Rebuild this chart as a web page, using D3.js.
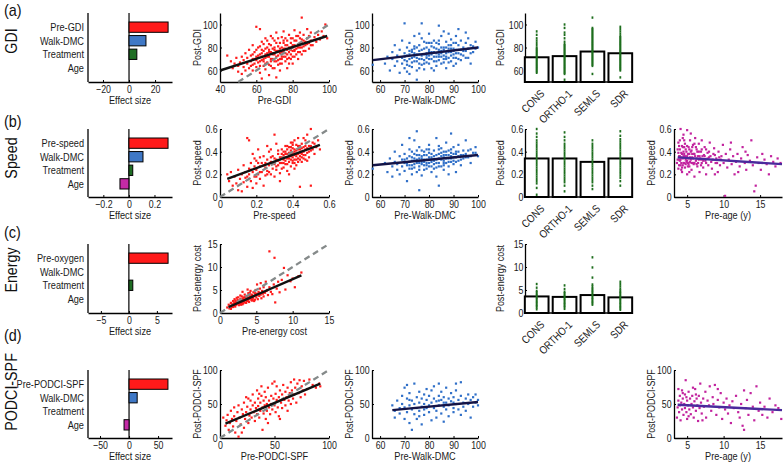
<!DOCTYPE html>
<html><head><meta charset="utf-8">
<script src="https://cdn.jsdelivr.net/npm/d3@7"></script>
<style>body{margin:0;background:#fff}svg{display:block}</style>
</head><body><svg id="c" width="784" height="465"></svg>
<script>
// ---------------- DATA ----------------
const rowTitles = ["GDI","Speed","Energy","PODCI-SPF"];
const rowTags = ["(a)","(b)","(c)","(d)"];
const effLabelsA = ["Pre-GDI","Walk-DMC","Treatment","Age"];
const effLabelsB = ["Pre-speed","Walk-DMC","Treatment","Age"];
const effLabelsC = ["Pre-oxygen","Walk-DMC","Treatment","Age"];
const effLabelsD = ["Pre-PODCI-SPF","Walk-DMC","Treatment","Age"];
const effA = [30, 13, 6, null];
const effB = [0.306, 0.11, 0.03, -0.07];
const effC = [7.0, null, 0.7, null];
const effD = [67, 14, null, -8.6];
const effTicksA = [-20,0,20], effTicksB = [-0.2,0,0.2], effTicksC = [-5,0,5], effTicksD = [-50,0,50];

const groups = ["CONS","ORTHO-1","SEMLS","SDR"];
const barsGDI = [71.5, 72.5, 76.5, 75];
const barsSpeed = [0.34, 0.34, 0.31, 0.34];
const barsEnergy = [3.6, 3.5, 3.9, 3.4];
const stripGDI = [
 [58,59,60,61,62,63,64,65,66,67,68,69,70,71,72,73,74,75,76,77,78,79,80,82,84,86,88,91,94],
 [52,57,58,59,60,61,62,63,64,65,66,67,68,69,70,71,72,73,74,75,76,77,78,79,80,81,82,83,85,88,91,93,97,100],
 [57,64,65,66,67,68,69,70,71,72,73,74,75,76,77,78,79,80,81,82,83,84,85,86,87,88,89,90,91,92,93,94,95,96,97,106],
 [54,60,61,62,63,64,65,66,67,68,69,70,71,72,73,74,75,76,77,78,79,80,81,82,83,84,85,86,87,88,89,90,92,94,96,98]
];
const stripSpeed = [
 [0.02,0.08,0.12,0.14,0.16,0.18,0.2,0.22,0.24,0.26,0.28,0.3,0.32,0.34,0.36,0.38,0.4,0.42,0.44,0.46,0.48,0.5,0.53,0.56,0.6],
 [0.05,0.1,0.13,0.15,0.17,0.19,0.21,0.23,0.25,0.27,0.29,0.31,0.33,0.35,0.37,0.39,0.41,0.43,0.45,0.47,0.5,0.53,0.57],
 [0.07,0.1,0.13,0.15,0.17,0.19,0.21,0.23,0.25,0.27,0.29,0.31,0.33,0.35,0.37,0.39,0.41,0.43,0.45,0.47,0.5],
 [0.1,0.14,0.17,0.19,0.21,0.23,0.25,0.27,0.29,0.31,0.33,0.35,0.37,0.39,0.41,0.43,0.45,0.47,0.49,0.51,0.54,0.58]
];
const stripEnergy = [
 [0.8,1.2,1.5,1.8,2.1,2.4,2.7,3,3.3,3.6,3.9,4.2,4.5,4.8,5.5,6.3],
 [0.9,1.3,1.6,1.9,2.2,2.5,2.8,3.1,3.4,3.7,4,4.3,4.6,5.2,6],
 [1.8,2.1,2.4,2.7,3,3.3,3.6,3.9,4.2,4.5,4.8,5.1,5.4,5.8,6.2,7.7,9.9,12.1],
 [0.7,1,1.3,1.6,1.9,2.2,2.5,2.8,3.1,3.4,3.7,4,4.3,4.6,4.9,5.3,5.8,6.3,6.8]
];

const ptsA1 = [[44,73],[46,68],[47,62],[48,66],[49,71],[50,64],[50,59],[51,67],[52,57],[52,72],[53,63],[53,69],[54,60],[54,75],[55,66],[55,71],
[56,62],[56,78],[57,68],[57,73],[58,60],[58,65],[58,82],[59,70],[59,76],[60,98],[60,63],[60,72],[61,67],[61,80],[62,96],[62,58],[62,74],[63,53],[63,69],[63,85],[64,64],[64,77],[65,71],[65,61],[65,88],[65,74],
[66,67],[66,80],[67,56],[67,72],[67,83],[68,64],[68,76],[68,90],[69,70],[69,79],[70,62],[70,74],[70,86],[71,54],[71,68],[71,77],[71,93],[72,65],[72,81],[72,73],[73,60],[73,84],[73,70],[74,76],[74,89],[74,66],[75,79],[75,72],[75,94],
[76,68],[76,82],[76,75],[77,86],[77,62],[77,78],[78,71],[78,91],[78,80],[79,74],[79,84],[80,66],[80,88],[80,77],[81,82],[81,72],[81,95],[82,79],[82,86],[83,70],[83,90],[83,76],[84,84],[84,93],[84,80],[85,106],[85,74],[85,87],
[86,81],[86,91],[87,77],[87,85],[88,96],[88,83],[89,79],[89,90],[90,86],[90,93],[91,82],[92,89],[93,85],[94,91],[95,87],[96,94],[97,90],[98,100],[99,88],
[58,74],[61,73],[64,70],[66,75],[69,74],[72,77],[74,72],[76,79],[79,78],[81,77],[63,75],[67,78],[70,80],[73,79],[77,74],[79,70],[68,68],[62,68],[60,69],[75,84],
[59,66],[60,78],[61,71],[62,64],[62,81],[63,72],[63,78],[64,68],[64,83],[65,66],[65,79],[66,72],[66,86],[67,65],[67,76],[68,70],[68,82],[69,62],[69,75],[69,88],[70,68],[70,78],[71,72],[71,84],[72,69],[72,88],[73,75],[73,66],[74,80],[74,70],[75,76],[75,86],[76,72],[76,88],[77,70],[77,82],[78,76],[78,66],[79,80],[79,88],[80,72],[80,82],[81,86],[81,78],[82,74],[82,90],[83,82],[83,80],[84,76],[84,88],[85,80],[85,84],[86,77],[86,86],[87,82],[88,88],[89,84],[90,82],[58,70],[57,64]];
const ptsA2 = [[57,65],[62,66],[63,72],[64,60],[65,70],[65,76],[66,64],[66,82],[67,68],[67,73],[68,58],[68,78],[69,66],[69,71],[69,86],[70,101],[70,62],[70,75],[70,69],[71,80],[71,65],[71,73],[72,57],[72,70],[72,84],[73,67],[73,76],[73,63],[74,72],[74,90],[74,79],[75,52],[75,68],[75,74],[75,60],[76,82],[76,70],[76,77],[77,65],[77,73],[77,88],[77,101],[78,69],[78,79],[78,61],[79,75],[79,84],[79,71],[80,66],[80,78],[80,73],[80,92],[81,62],[81,70],[81,81],[82,76],[82,68],[82,86],[83,72],[83,79],[83,64],[84,99],[84,74],[84,83],[84,69],[85,77],[85,90],[85,66],[86,73],[86,80],[86,94],[87,70],[87,85],[87,62],[88,76],[88,82],[88,92],[89,68],[89,79],[89,87],[90,74],[90,84],[90,64],[91,78],[91,90],[91,71],[92,82],[92,75],[92,96],[93,69],[93,86],[94,80],[94,73],[95,84],[95,77],[96,71],[96,88],[97,82],[98,76],[99,85],[99,79],[100,80],[97,66],[95,93],
[74,81],[76,62],[78,85],[79,67],[81,76],[83,84],[85,72],[86,67],[88,71],[90,79],[72,77],[71,59],[76,92],[80,84],[82,60],[84,78],[87,75],[89,73],[91,66],[93,78],
[70,72],[71,68],[72,74],[72,64],[73,78],[73,71],[74,68],[74,75],[75,80],[75,71],[76,66],[76,74],[77,78],[77,70],[78,74],[78,66],[79,80],[79,73],[80,70],[80,76],[81,74],[81,84],[82,72],[82,80],[83,75],[83,68],[84,72],[84,86],[85,80],[85,75],[86,70],[86,78],[87,80],[87,72],[88,79],[88,67],[89,76],[89,82],[90,71],[90,77],[91,75],[91,84],[92,78],[92,70],[93,74],[94,77],[95,71],[96,79],[97,75],[98,81]];
const ptsB1 = [[0.04,0.2],[0.05,0.14],[0.06,0.22],[0.07,0.1],[0.08,0.18],[0.09,0.12],[0.1,0.24],[0.1,0.06],[0.11,0.16],[0.12,0.05],[0.12,0.2],[0.13,0.28],[0.13,0.13],[0.14,0.22],[0.14,0.17],[0.15,0.52],[0.15,0.09],[0.16,0.5],[0.16,0.25],[0.16,0.2],[0.17,0.14],[0.17,0.3],[0.18,0.22],[0.18,0.38],[0.19,0.18],[0.19,0.27],[0.2,0.12],[0.2,0.24],[0.2,0.32],[0.21,0.2],[0.21,0.42],[0.22,0.27],[0.22,0.16],[0.23,0.3],[0.23,0.22],[0.24,0.36],[0.24,0.1],[0.25,0.26],[0.25,0.19],[0.26,0.33],[0.26,0.23],[0.27,0.4],[0.27,0.28],[0.28,0.2],[0.28,0.31],[0.29,0.25],[0.29,0.36],[0.3,0.55],[0.3,0.29],[0.3,0.18],[0.31,0.33],[0.31,0.24],[0.32,0.38],[0.32,0.28],[0.33,0.21],[0.33,0.35],[0.34,0.42],[0.34,0.3],[0.35,0.26],[0.35,0.37],[0.35,0.33],[0.36,0.45],[0.36,0.29],[0.36,0.4],[0.37,0.34],[0.37,0.23],[0.37,0.38],[0.38,0.31],[0.38,0.44],[0.38,0.36],[0.39,0.41],[0.39,0.27],[0.39,0.48],[0.4,0.35],[0.4,0.39],[0.4,0.3],[0.4,0.43],[0.41,0.37],[0.41,0.5],[0.41,0.33],[0.42,0.41],[0.42,0.28],[0.42,0.46],[0.43,0.38],[0.43,0.34],[0.43,0.52],[0.44,0.09],[0.44,0.42],[0.44,0.36],[0.45,0.47],[0.45,0.31],[0.45,0.4],[0.46,0.44],[0.46,0.37],[0.47,0.5],[0.47,0.33],[0.47,0.42],[0.48,0.39],[0.48,0.55],[0.49,0.45],[0.49,0.35],[0.5,0.1],[0.5,0.6],[0.5,0.41],[0.51,0.48],[0.52,0.38],[0.53,0.44],[0.54,0.5],[0.55,0.42],[0.26,0.45],[0.31,0.47],[0.22,0.35],[0.18,0.08],[0.33,0.14],[0.28,0.42],[0.41,0.25],[0.46,0.52],[0.38,0.2],[0.43,0.45],[0.39,0.33],
[0.36,0.35],[0.4,0.46],[0.42,0.36],[0.44,0.39],[0.37,0.42],[0.34,0.38],[0.45,0.35],[0.39,0.38],[0.41,0.42],[0.32,0.32],
[0.3,0.34],[0.31,0.27],[0.32,0.41],[0.33,0.3],[0.34,0.35],[0.34,0.25],[0.35,0.4],[0.35,0.3],[0.36,0.32],[0.36,0.38],[0.37,0.29],[0.37,0.45],[0.38,0.34],[0.38,0.39],[0.39,0.36],[0.39,0.44],[0.4,0.32],[0.4,0.48],[0.41,0.4],[0.41,0.3],[0.42,0.38],[0.42,0.33],[0.43,0.42],[0.43,0.31],[0.44,0.45],[0.44,0.33],[0.45,0.38],[0.45,0.43],[0.46,0.4],[0.46,0.34],[0.47,0.45],[0.47,0.37],[0.48,0.43],[0.48,0.32],[0.49,0.4],[0.5,0.45],[0.51,0.42],[0.52,0.47],[0.25,0.3],[0.27,0.22],[0.28,0.35],[0.29,0.3],[0.24,0.28],[0.22,0.22],[0.2,0.18],[0.26,0.2],[0.21,0.3],[0.19,0.34],[0.17,0.24],[0.15,0.18]];
const ptsB2 = [[57,0.25],[62,0.3],[63,0.22],[64,0.34],[65,0.27],[65,0.18],[66,0.31],[66,0.4],[67,0.24],[67,0.29],[68,0.36],[68,0.2],[69,0.27],[69,0.33],[69,0.46],[70,0.3],[70,0.23],[70,0.38],[71,0.14],[71,0.28],[71,0.34],[72,0.25],[72,0.42],[72,0.31],[73,0.2],[73,0.35],[73,0.28],[74,0.32],[74,0.5],[74,0.26],[75,0.37],[75,0.22],[75,0.3],[75,0.58],[76,0.34],[76,0.27],[76,0.44],[77,0.31],[77,0.19],[77,0.36],[78,0.28],[78,0.4],[78,0.33],[79,0.25],[79,0.37],[79,0.3],[80,0.46],[80,0.33],[80,0.27],[80,0.39],[81,0.22],[81,0.35],[81,0.31],[82,0.41],[82,0.29],[82,0.36],[83,0.33],[83,0.18],[83,0.52],[84,0.38],[84,0.3],[84,0.34],[85,0.27],[85,0.43],[85,0.36],[86,0.32],[86,0.4],[86,0.24],[87,0.37],[87,0.3],[87,0.48],[88,0.34],[88,0.41],[88,0.27],[89,0.36],[89,0.31],[89,0.56],[90,0.38],[90,0.29],[90,0.44],[91,0.35],[91,0.4],[92,0.32],[92,0.46],[93,0.37],[93,0.28],[94,0.41],[94,0.34],[95,0.38],[95,0.5],[96,0.35],[97,0.42],[97,0.3],[98,0.39],[99,0.44],[100,0.36],[76,0.06],[84,0.1],[72,0.52],[91,0.22],[79,0.42],[83,0.26],[86,0.35],[74,0.38],[88,0.2],
[78,0.31],[80,0.35],[82,0.33],[76,0.3],[84,0.42],[86,0.28],[73,0.32],[89,0.39],[81,0.27],[77,0.41],
[70,0.33],[71,0.3],[72,0.36],[72,0.28],[73,0.4],[73,0.25],[74,0.34],[74,0.29],[75,0.33],[75,0.41],[76,0.37],[76,0.24],[77,0.34],[77,0.29],[78,0.37],[78,0.24],[79,0.33],[79,0.28],[80,0.3],[80,0.42],[81,0.38],[81,0.33],[82,0.32],[82,0.25],[83,0.37],[83,0.3],[84,0.27],[84,0.45],[85,0.33],[85,0.39],[86,0.37],[86,0.3],[87,0.34],[87,0.4],[88,0.37],[88,0.31],[89,0.42],[89,0.34],[90,0.35],[90,0.32],[91,0.38],[91,0.31],[92,0.36],[92,0.4],[93,0.33],[94,0.37],[95,0.35],[96,0.41],[97,0.36],[99,0.39]];
const ptsB4 = [[3.6,0.3],[3.7,0.42],[3.8,0.25],[3.9,0.36],[4,0.5],[4,0.32],[4.1,0.6],[4.1,0.28],[4.2,0.39],[4.3,0.22],[4.3,0.45],[4.4,0.34],[4.5,0.3],[4.5,0.55],[4.6,0.38],[4.7,0.26],[4.7,0.47],[4.8,0.33],[4.9,0.4],[5,0.2],[5,0.36],[5,0.59],[5.1,0.3],[5.2,0.44],[5.3,0.27],[5.3,0.38],[5.4,0.5],[5.5,0.33],[5.6,0.24],[5.6,0.41],[5.7,0.35],[5.8,0.46],[5.9,0.29],[6,0.38],[6,0.18],[6.1,0.52],[6.2,0.32],[6.3,0.42],[6.4,0.27],[6.5,0.36],[6.6,0.47],[6.7,0.22],[6.8,0.34],[6.9,0.4],[7,0.3],[7,0.5],[7.2,0.26],[7.3,0.37],[7.4,0.44],[7.5,0.32],[7.6,0.2],[7.8,0.39],[7.9,0.28],[8,0.35],[8.1,0.48],[8.3,0.31],[8.4,0.25],[8.6,0.38],[8.7,0.43],[8.9,0.3],[9,0.34],[9.2,0.22],[9.3,0.4],[9.5,0.28],[9.7,0.36],[9.9,0.46],[10,0.3],[10.2,0.01],[10.3,0.38],[10.5,0.26],[10.7,0.33],[10.9,0.42],[11.1,0.29],[11.3,0.36],[11.5,0.2],[11.7,0.31],[11.9,0.38],[12.2,0.27],[12.4,0.34],[12.6,0.44],[12.9,0.3],[13.1,0.24],[13.3,0.37],[13.6,0.32],[13.8,0.5],[14,0.28],[14.2,0.05],[14.4,0.1],[14.6,0.35],[14.8,0.3],[15.1,0.24],[15.3,0.38],[15.6,0.33],[15.9,0.29],[16.2,0.2],[16.5,0.36],[16.8,0.31],[17.1,0.27],[17.4,0.34],[17.8,0.3],[4.2,0.24],[4.6,0.44],[5.2,0.34],[5.8,0.3],[6.4,0.4],[6.9,0.28],[7.6,0.42],[3.8,0.48],[4.4,0.52],[5.5,0.56],[8.8,0.2],[9.6,0.33],[11,0.48],[12,0.22],[13,0.4],
[3.9,0.33],[4.5,0.4],[5.1,0.27],[5.7,0.38],[6.3,0.29],[4.8,0.29],[5.4,0.31],[6.6,0.33],[7.1,0.36],[4.2,0.35],
[3.7,0.33],[3.8,0.39],[3.9,0.28],[4,0.42],[4,0.36],[4.1,0.33],[4.2,0.3],[4.3,0.38],[4.4,0.28],[4.4,0.44],[4.5,0.36],[4.6,0.3],[4.7,0.36],[4.8,0.42],[4.9,0.31],[5,0.45],[5,0.32],[5.1,0.38],[5.2,0.29],[5.3,0.42],[5.4,0.35],[5.5,0.4],[5.6,0.3],[5.7,0.44],[5.8,0.34],[5.9,0.38],[6,0.3],[6.1,0.36],[6.2,0.44],[6.3,0.34],[6.5,0.3],[6.6,0.4],[6.7,0.36],[6.9,0.33],[7,0.42],[7.2,0.32],[7.4,0.36],[7.6,0.3],[7.8,0.34],[8,0.4],[8.2,0.36],[8.5,0.33],[8.8,0.37],[9.1,0.3],[9.4,0.35],[3.9,0.45],[4.6,0.5],[5.3,0.22],[6,0.47],[4.3,0.26]];
const ptsC1 = [[1,1.2],[1.2,1.8],[1.3,1],[1.4,1.5],[1.5,2.2],[1.6,1.3],[1.7,1.9],[1.8,2.6],[1.9,1.6],[2,2.1],[2,3],[2.1,1.4],[2.2,2.4],[2.3,1.9],[2.4,2.8],[2.5,2.2],[2.5,3.4],[2.6,1.7],[2.7,2.6],[2.8,3.1],[2.9,2.2],[3,2.8],[3,3.6],[3.1,1.9],[3.2,3.2],[3.3,2.5],[3.4,4],[3.5,2.9],[3.5,3.4],[3.6,2.2],[3.7,3.7],[3.8,2.7],[3.9,4.3],[4,3.1],[4,2.4],[4.1,3.6],[4.2,4.8],[4.3,2.9],[4.4,3.9],[4.5,3.3],[4.6,4.5],[4.7,2.6],[4.8,3.8],[4.9,5],[5,3.4],[5,4.2],[5.1,6.2],[5.2,3],[5.3,4.6],[5.4,3.7],[5.5,5.3],[5.6,4],[5.7,3.2],[5.8,4.8],[6,5.6],[6,3.6],[6.2,4.4],[6.3,6.8],[6.5,5],[6.6,3.9],[6.8,13.4],[6.8,5.6],[7,4.6],[7.2,4.1],[7.4,6.2],[7.5,12],[7.6,2.3],[7.8,5.3],[8,6.8],[8.2,4.5],[8.5,7.2],[8.8,9.8],[9,5.1],[9.3,8.2],[9.7,6.9],[10,7.5],[10.3,5.6],[10.8,8],[11.2,8.8],[2.1,2.7],[2.6,2.4],[3.2,2.1],[3.6,3],[4.4,2.7],[2.8,3.8],[1.8,1.3],[2.3,3.3],[3.8,5.1],[4.8,2.9],[5.6,6.5],[1.5,0.9],[2.9,1.8],[3.4,2.3],[4.1,4.4],[3.1,4.6],
[1.6,1.7],[1.9,2.1],[2.1,2.3],[2.2,1.8],[2.4,2.4],[2.5,2.7],[2.7,2.1],[2.8,2.6],[3,2.4],[3.1,3],[3.2,2.7],[3.3,3.4],[3.4,2.8],[3.6,3.5],[3.7,2.6],[3.8,3.3],[3.9,2.9],[4,3.8],[4.2,3.3],[4.3,4],[4.5,3],[4.6,3.6],[4.8,4.3],[5,3.8],[5.2,4.1],[5.4,4.4],[5.9,4.2],[6.4,4.8],[2,1.6],[1.3,1.4]];
const ptsD1 = [[3,30],[5,18],[6,26],[7,34],[8,12],[9,22],[10,40],[11,28],[12,17],[13,45],[13,32],[14,8],[15,25],[16,38],[17,2],[17,48],[18,30],[19,20],[20,42],[21,35],[22,52],[22,15],[23,28],[24,60],[24,38],[25,46],[26,22],[27,33],[28,55],[28,42],[29,30],[30,64],[30,48],[31,38],[32,25],[32,52],[33,44],[34,70],[34,35],[35,58],[35,47],[36,30],[37,52],[37,40],[38,76],[38,62],[39,45],[40,36],[40,55],[41,68],[41,48],[42,28],[42,60],[43,50],[43,40],[44,74],[45,55],[45,45],[46,35],[47,62],[47,50],[48,80],[48,42],[49,58],[50,83],[50,48],[51,65],[51,38],[52,56],[52,76],[53,45],[54,60],[54,32],[55,70],[56,52],[57,64],[57,44],[58,78],[59,56],[60,48],[60,68],[61,60],[62,40],[62,74],[63,55],[64,66],[65,82],[65,50],[66,70],[67,58],[68,86],[68,64],[69,74],[70,52],[71,80],[72,66],[73,85],[74,60],[75,76],[76,70],[77,84],[78,64],[80,72],[82,86],[85,78],[88,74],[91,80],[92,76],[36,65],[44,22],[26,58],[55,28],[39,12],[20,8]];
const ptsD2 = [[65,48],[66,40],[66,30],[67,55],[68,44],[68,36],[69,62],[69,50],[70,74],[70,28],[70,45],[71,58],[71,38],[71,78],[72,48],[72,22],[72,66],[73,42],[73,55],[73,12],[74,80],[74,35],[74,50],[75,60],[75,44],[75,28],[76,68],[76,52],[76,40],[77,46],[77,58],[77,20],[78,64],[78,34],[78,50],[79,72],[79,44],[79,56],[80,38],[80,62],[80,48],[81,52],[81,26],[81,70],[82,44],[82,58],[82,76],[83,40],[83,54],[83,30],[84,62],[84,48],[84,80],[85,36],[85,56],[85,68],[86,46],[86,24],[86,60],[87,52],[87,42],[87,74],[88,58],[88,32],[88,48],[89,66],[89,54],[90,44],[90,60],[90,38],[91,70],[91,50],[91,80],[92,56],[92,42],[93,62],[93,34],[93,82],[94,52],[94,46],[95,58],[95,40],[96,64],[96,50],[97,56],[97,30],[98,60],[98,46],[99,52],[99,64],[100,56],[100,48],[78,42],[84,55],[76,32],[90,52],[72,56],[86,52]];
const ptsD4 = [[3.6,30],[3.7,45],[3.8,55],[3.9,38],[4,62],[4,48],[4.1,26],[4.2,52],[4.3,70],[4.3,42],[4.4,58],[4.5,34],[4.6,50],[4.7,64],[4.7,44],[4.8,85],[4.9,38],[5,55],[5,28],[5.1,48],[5.2,68],[5.3,42],[5.4,58],[5.5,35],[5.6,50],[5.7,62],[5.8,45],[5.9,30],[6,54],[6.1,72],[6.2,40],[6.3,58],[6.4,48],[6.5,25],[6.6,62],[6.7,44],[6.8,80],[6.9,52],[7,36],[7.2,58],[7.3,46],[7.5,68],[7.6,30],[7.8,55],[8,48],[8.1,76],[8.3,40],[8.5,60],[8.6,50],[8.8,78],[9,34],[9.2,56],[9.4,45],[9.6,66],[9.8,28],[10,52],[10.2,42],[10.4,58],[10.6,36],[10.8,48],[11,22],[11.2,54],[11.4,44],[11.7,62],[12,38],[12.2,30],[12.4,50],[12.6,18],[12.8,12],[13,44],[13.2,56],[13.4,34],[13.7,66],[14,46],[14.2,26],[14.5,76],[14.8,40],[15,52],[15.3,34],[15.6,46],[16,30],[16.3,58],[16.7,38],[17.1,48],[17.5,44],[17.9,28],[4.4,66],[5.2,32],[6.2,64],[7.1,26],[3.8,72],[5.8,74],[9.2,72],[12.8,70],[4.9,60]];

const fitA1=[[40,60],[99,90]], fitA2=[[57,69],[100,80]];
const fitB1=[[0.04,0.16],[0.55,0.46]], fitB2=[[57,0.28],[100,0.37]], fitB4=[[3.7,0.35],[18,0.29]];
const fitC1=[[1.2,1.3],[11.2,8.2]];
const fitD1=[[5,21],[92,80]], fitD2=[[65,41],[100,53]], fitD4=[[3.7,49],[18,41]];

// ---------------- LAYOUT / STYLE ----------------
const svg = d3.select("#c");
const FONT = '"Liberation Sans",Arial,sans-serif';
svg.style("font-family", FONT);
const SX = 0.8; // horizontal condensing of text to match the narrow lettering
const rowTop=[13,129,244,370], rowBot=[82,197,313,438];
const fmt = d => (d<0?"\u2212":"") + String(Math.abs(d));
const effColors = ["#ff1a1a","#3f78c6","#1f6e24","#c42aa6"];
const RED="#ff1a1a", BLUE="#2f6fc8", MAG="#c2239e";

function htext(x,y,txt,size,anchor){
  return svg.append("text").attr("transform",`translate(${x},${y}) scale(${SX},1)`)
    .attr("text-anchor",anchor||"start").attr("font-size",size).attr("fill","#1a1a1a").text(txt);
}
function vtext(x,y,txt,size){
  return svg.append("text").attr("transform",`translate(${x},${y}) rotate(-90) scale(0.78,1)`)
    .attr("text-anchor","middle").attr("font-size",size).attr("fill","#1a1a1a").text(txt);
}
function styleAxis(g){
  g.select(".domain").attr("stroke","#000").attr("stroke-width",1.3);
  g.selectAll(".tick line").attr("stroke","#000");
  g.selectAll(".tick text").attr("fill","#1a1a1a").attr("font-size",11).attr("font-family",FONT)
    .attr("transform",`scale(${SX},1)`);
}
function frame(r, x, y, xt, yt){
  const gx = svg.append("g").attr("transform",`translate(0,${rowBot[r]})`)
    .call(d3.axisBottom(x).tickValues(xt).tickSize(-2).tickSizeOuter(0).tickPadding(3).tickFormat(fmt));
  styleAxis(gx);
  const gy = svg.append("g").attr("transform",`translate(${x.range()[0]},0)`)
    .call(d3.axisLeft(y).tickValues(yt).tickSize(-2).tickSizeOuter(0).tickPadding(3).tickFormat(fmt));
  styleAxis(gy);
}
function xLabel(r, x, txt){
  htext((x.range()[0]+x.range()[1])/2, rowBot[r]+22, txt, 11.5, "middle");
}
function yLabel(r, xpos, txt){
  vtext(xpos,(rowTop[r]+rowBot[r])/2,txt,11.5);
}

// row tags & titles
rowTags.forEach((t,i)=>{
  svg.append("text").attr("transform",`translate(4,${[16,127,238,341][i]}) scale(0.9,1)`).attr("font-size",16).attr("fill","#111").text(t);
});
rowTitles.forEach((t,i)=>{
  svg.append("text").attr("transform",`translate(17,${[41,158,270,392][i]}) rotate(-90) scale(0.84,1)`)
    .attr("text-anchor","middle").attr("font-size",17).attr("fill","#111").text(t);
});

// ---------------- EFFECT SIZE PANELS ----------------
function effectPanel(r, labels, vals, dom, ticks){
  const x = d3.scaleLinear().domain(dom).range([88,172]);
  const yb = d3.scaleBand().domain(d3.range(4)).range([rowTop[r]+9,rowTop[r]+60]).paddingInner(0.24);
  const gx = svg.append("g").attr("transform",`translate(0,${rowBot[r]})`)
    .call(d3.axisBottom(x).tickValues(ticks).tickSize(-2).tickSizeOuter(0).tickPadding(3).tickFormat(fmt));
  styleAxis(gx);
  svg.append("line").attr("x1",88).attr("x2",88).attr("y1",rowTop[r]).attr("y2",rowBot[r]).attr("stroke","#000").attr("stroke-width",1.3);
  svg.append("line").attr("x1",x(0)).attr("x2",x(0)).attr("y1",rowTop[r]).attr("y2",rowBot[r]).attr("stroke","#000").attr("stroke-width",1.2);
  vals.forEach((v,i)=>{
    if(v!==null){
      svg.append("rect").attr("x",Math.min(x(0),x(v))).attr("y",yb(i)).attr("width",Math.abs(x(v)-x(0))).attr("height",yb.bandwidth())
        .attr("fill",effColors[i]).attr("stroke","#000").attr("stroke-width",1);
    }
    htext(84, yb(i)+yb.bandwidth()/2+4, labels[i], 11.5, "end");
  });
  xLabel(r, x, "Effect size");
}
effectPanel(0, effLabelsA, effA, [-31.5,33], effTicksA);
effectPanel(1, effLabelsB, effB, [-0.32,0.337], effTicksB);
effectPanel(2, effLabelsC, effC, [-7.3,7.7], effTicksC);
effectPanel(3, effLabelsD, effD, [-70.7,74], effTicksD);

// ---------------- SCATTER PANELS ----------------
function scatterPanel(o){
  const r=o.r;
  const x = d3.scaleLinear().domain(o.xd).range(o.xr);
  const y = d3.scaleLinear().domain(o.yd).range([rowBot[r],rowTop[r]]);
  frame(r,x,y,o.xt,o.yt);
  svg.append("g").selectAll("rect").data(o.pts).join("rect")
    .attr("x",d=>x(d[0])-1.1).attr("y",d=>y(d[1])-1.1).attr("width",2.2).attr("height",2.2).attr("fill",o.color);
  if(o.ident){
    svg.append("line").attr("x1",x(o.ident[0])).attr("y1",y(o.ident[0])).attr("x2",x(o.ident[1])).attr("y2",y(o.ident[1]))
      .attr("stroke","#858a8a").attr("stroke-width",2.3).attr("stroke-dasharray","6,4");
  }
  svg.append("line").attr("x1",x(o.fit[0][0])).attr("y1",y(o.fit[0][1])).attr("x2",x(o.fit[1][0])).attr("y2",y(o.fit[1][1]))
    .attr("stroke",o.fc).attr("stroke-width",2.4);
  xLabel(r,x,o.xl);
  yLabel(r,o.xr[0]-19,o.yl);
}
const S1=[220,329], S2=[372,478], S4=[674,782];
scatterPanel({r:0,xr:S1,xd:[40,100],yd:[50,110],xt:[40,60,80,100],yt:[60,80,100],pts:ptsA1,color:RED,fit:fitA1,fc:"#111",ident:[50,100],xl:"Pre-GDI",yl:"Post-GDI"});
scatterPanel({r:0,xr:S2,xd:[56.7,100],yd:[50,110],xt:[60,70,80,90,100],yt:[60,80,100],pts:ptsA2,color:BLUE,fit:fitA2,fc:"#141446",xl:"Pre-Walk-DMC",yl:"Post-GDI"});
scatterPanel({r:1,xr:S1,xd:[0,0.6],yd:[0,0.6],xt:[0,0.2,0.4,0.6],yt:[0,0.2,0.4,0.6],pts:ptsB1,color:RED,fit:fitB1,fc:"#111",ident:[0,0.6],xl:"Pre-speed",yl:"Post-speed"});
scatterPanel({r:1,xr:S2,xd:[56.7,100],yd:[0,0.6],xt:[60,70,80,90,100],yt:[0,0.2,0.4,0.6],pts:ptsB2,color:BLUE,fit:fitB2,fc:"#141446",xl:"Pre-Walk-DMC",yl:"Post-speed"});
scatterPanel({r:1,xr:S4,xd:[3.2,18],yd:[0,0.6],xt:[5,10,15],yt:[0,0.2,0.4,0.6],pts:ptsB4,color:MAG,fit:fitB4,fc:"#4a2a9c",xl:"Pre-age (y)",yl:"Post-speed"});
scatterPanel({r:2,xr:S1,xd:[0,15],yd:[0,15],xt:[0,5,10,15],yt:[0,5,10,15],pts:ptsC1,color:RED,fit:fitC1,fc:"#111",ident:[0,15],xl:"Pre-energy cost",yl:"Post-energy cost"});
scatterPanel({r:3,xr:S1,xd:[0,100],yd:[0,100],xt:[0,50,100],yt:[0,50,100],pts:ptsD1,color:RED,fit:fitD1,fc:"#111",ident:[0,100],xl:"Pre-PODCI-SPF",yl:"Post-PODCI-SPF"});
scatterPanel({r:3,xr:S2,xd:[56.7,100],yd:[0,100],xt:[60,70,80,90,100],yt:[0,50,100],pts:ptsD2,color:BLUE,fit:fitD2,fc:"#141446",xl:"Pre-Walk-DMC",yl:"Post-PODCI-SPF"});
scatterPanel({r:3,xr:S4,xd:[3.2,18],yd:[0,100],xt:[5,10,15],yt:[0,50,100],pts:ptsD4,color:MAG,fit:fitD4,fc:"#4a2a9c",xl:"Pre-age (y)",yl:"Post-PODCI-SPF"});

// ---------------- BAR PANELS ----------------
function barPanel(r, yd, yt, vals, strips, yl){
  const x = d3.scaleBand().domain(groups).range([524,633]).paddingInner(0.15).paddingOuter(0.03);
  const y = d3.scaleLinear().domain(yd).range([rowBot[r],rowTop[r]]);
  const gy = svg.append("g").attr("transform",`translate(525,0)`)
    .call(d3.axisLeft(y).tickValues(yt).tickSize(-2).tickSizeOuter(0).tickPadding(2).tickFormat(fmt));
  styleAxis(gy);
  svg.append("line").attr("x1",525).attr("x2",633).attr("y1",rowBot[r]).attr("y2",rowBot[r]).attr("stroke","#000").attr("stroke-width",1.3);
  svg.append("g").selectAll("rect").data(vals).join("rect")
    .attr("x",(d,i)=>x(groups[i])).attr("y",d=>y(d)).attr("width",x.bandwidth()).attr("height",d=>y(yd[0])-y(d))
    .attr("fill","#fff").attr("stroke","#000").attr("stroke-width",2);
  strips.forEach((arr,i)=>{
    const cx = x(groups[i])+x.bandwidth()/2;
    svg.append("g").selectAll("rect").data(arr).join("rect")
      .attr("x",cx-0.9).attr("y",d=>y(d)-1.2).attr("width",1.8).attr("height",2.4).attr("fill","#1d6e1d");
  });
  groups.forEach(gn=>{
    const cx = x(gn)+x.bandwidth()/2;
    svg.append("text").attr("transform",`translate(${cx+3},${rowBot[r]+7}) rotate(-45) scale(0.85,1)`)
      .attr("text-anchor","end").attr("dy","0.7em").attr("font-size",11).attr("fill","#1a1a1a").text(gn);
  });
  yLabel(r, 504, yl);
}
barPanel(0,[50,110],[60,80,100],barsGDI,stripGDI,"Post-GDI");
barPanel(1,[0,0.6],[0,0.2,0.4,0.6],barsSpeed,stripSpeed,"Post-speed");
barPanel(2,[0,15],[0,5,10,15],barsEnergy,stripEnergy,"Post-energy cost");
</script></body></html>
